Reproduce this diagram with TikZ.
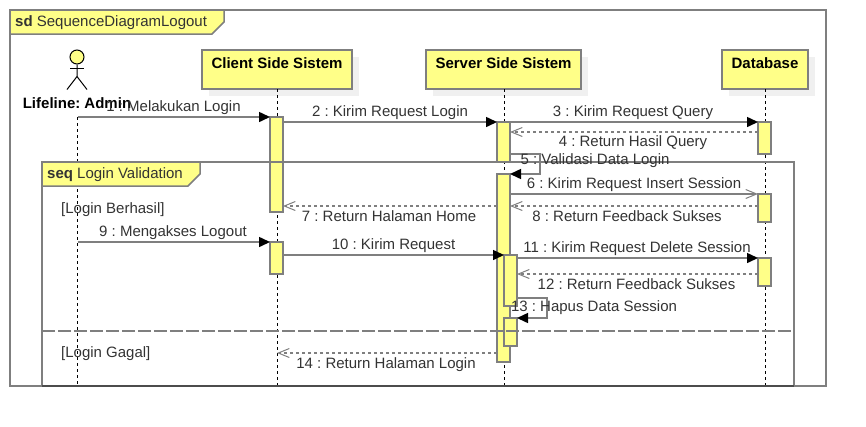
\documentclass[tikz,border=0pt]{standalone}
\usepackage{fontspec}
\setmainfont{Liberation Sans}
\usetikzlibrary{arrows.meta,shadows}
\definecolor{umlfill}{HTML}{FFFF88}
\definecolor{umlline}{HTML}{7F7F7F}
\definecolor{umltext}{HTML}{333333}
\frenchspacing
\begin{document}
\begin{tikzpicture}[x=1pt,y=-1pt,font=\fontsize{15}{17}\selectfont,
				frame/.style={rectangle,draw=umlline,line width=1.5pt,inner sep=0pt,outer sep=0pt,anchor=north west},
				tab/.style={draw=umlline,line width=1.5pt,fill=umlfill},
				tabtext/.style={anchor=west,inner sep=0pt,text=umltext,yshift=-1pt},
				object/.style={rectangle,draw=umlline,line width=1.5pt,fill=umlfill,anchor=north west,minimum height=39pt,inner xsep=0pt,inner ysep=6pt,outer sep=0pt,text height=12pt,text depth=15pt,font=\fontsize{15}{17}\selectfont\bfseries,drop shadow={shadow xshift=7pt,shadow yshift=-7pt,fill=black!6,opacity=1}},
				activation/.style={rectangle,draw=umlline,line width=1.5pt,fill=umlfill,anchor=north west,minimum width=13pt,inner sep=0pt,outer sep=0pt},
				lifeline/.style={black,line width=1pt,dash pattern=on 3pt off 3pt},
				call/.style={draw=umlline,line width=1.5pt,-{Triangle[black,length=11pt,width=10pt]}},
				callopen/.style={draw=umlline,line width=1.5pt,-{Straight Barb[length=11pt,width=9pt,line width=1pt]}},
				reply/.style={draw=umlline,line width=1.5pt,dash pattern=on 3pt off 3pt,-{Straight Barb[length=11pt,width=9pt,line width=1pt,sep=0pt]}},
				msg/.style={inner sep=0pt,text=umltext,yshift=-1pt}]
\useasboundingbox (0,0) rectangle (866,426);
\node[frame,minimum width=816pt,minimum height=376pt] (sdframe) at (10,10) {};
% objects
\node[circle,draw=black,line width=1pt,fill=umlfill,minimum size=14pt,inner sep=0pt] (admin) at (77,57) {};
\draw[black,line width=1pt] (admin.south) -- ++(0,12) coordinate (hip) -- ++(-10,13);
\draw[black,line width=1pt] (hip) -- ++(10,13);
\draw[black,line width=1pt] (70,68) -- (84,68);
\node[font=\fontsize{15}{17}\selectfont\bfseries,inner sep=0pt] (adminlabel) at (77,103.5) {Lifeline: Admin};
\node[object,minimum width=150pt] (client) at (202,50) {Client Side Sistem};
\node[object,minimum width=155pt] (server) at (426,50) {Server Side Sistem};
\node[object,minimum width=86pt] (database) at (722,50) {Database};
\coordinate (adminstart) at (77.5,117);
\coordinate (serverstart) at (504.5,89);
\draw[lifeline] (adminstart) -- (adminstart |- sdframe.south);
\draw[lifeline] (client.south) -- (client.south |- sdframe.south);
\draw[lifeline] (serverstart) -- (serverstart |- sdframe.south);
\draw[lifeline] (database.south) -- (database.south |- sdframe.south);
% activations
\node[activation,minimum height=95pt] (clientA) at (270,117) {};
\node[activation,minimum height=32pt] (clientB) at (270,242) {};
\node[activation,minimum height=40pt] (serverA) at (497,122) {};
\node[activation,minimum height=188pt] (serverB) at (497,174) {};
\node[activation,minimum height=51pt] (serverC) at (504,255) {};
\node[activation,minimum height=28pt] (serverD) at (504,318) {};
\node[activation,minimum height=32pt] (databaseA) at (758,122) {};
\node[activation,minimum height=28pt] (databaseB) at (758,194) {};
\node[activation,minimum height=28pt] (databaseC) at (758,258) {};
% fragment
\node[frame,minimum width=752pt,minimum height=224pt] (seqframe) at (42,162) {};
\draw[draw=umlline!60!black,line width=1.5pt] (seqframe.south west) -- (seqframe.south east);
\draw[umlline,line width=1.5pt,dash pattern=on 13pt off 3pt] (seqframe.west |- 0,331) -- (seqframe.east |- 0,331);
\draw[tab] (sdframe.north west) -- ++(214,0) -- ++(0,12) -- ++(-12,12) -- ++(-202,0) -- cycle;
\draw[tab] (seqframe.north west) -- ++(158,0) -- ++(0,12) -- ++(-12,12) -- ++(-146,0) -- cycle;
\node[tabtext] (sdlabel) at (15,22) {\textbf{sd} SequenceDiagramLogout};
\node[tabtext] (seqlabel) at (47,174) {\textbf{seq} Login Validation};
\node[msg,anchor=west] (berhasil) at (61,209) {[Login Berhasil]};
\node[msg,anchor=west] (gagal) at (61,353) {[Login Gagal]};
% messages
\draw[call] (adminstart) -- (clientA.north west);
\draw[call] (clientA.east |- serverA.north) -- (serverA.north west);
\draw[call] (serverA.north east) -- (databaseA.north west);
\draw[reply] (databaseA.west |- 0,132) -- (serverA.east |- 0,132);
\draw[call] (serverA.east |- 0,154) -- ++(30,0) |- (serverB.north east);
\draw[callopen] (serverB.east |- databaseB.north) -- (databaseB.north west);
\draw[reply] (serverB.west |- 0,206) -- (clientA.east |- 0,206);
\draw[reply] (databaseB.west |- 0,206) -- (serverB.east |- 0,206);
\draw[call] (adminstart |- clientB.north) -- (clientB.north west);
\draw[call] (clientB.east |- serverC.north) -- (serverC.north west);
\draw[call] (serverC.east |- databaseC.north) -- (databaseC.north west);
\draw[reply] (databaseC.west |- 0,274) -- (serverC.east |- 0,274);
\draw[call] (serverC.east |- 0,298) -- ++(30,0) |- (serverD.north east);
\draw[reply] (serverB.west |- 0,353) -- (client.south |- 0,353);
% message labels
\node[msg] (m1) at (173.5,107) {1 : Melakukan Login};
\node[msg] (m2) at (390,112) {2 : Kirim Request Login};
\node[msg] (m3) at (633,112) {3 : Kirim Request Query};
\node[msg] (m4) at (633,142) {4 : Return Hasil Query};
\node[msg] (m5) at (595,160) {5 : Validasi Data Login};
\node[msg] (m6) at (634,184) {6 : Kirim Request Insert Session};
\node[msg] (m7) at (389,215) {7 : Return Halaman Home};
\node[msg] (m8) at (627,215) {8 : Return Feedback Sukses};
\node[msg] (m9) at (173,232) {9 : Mengakses Logout};
\node[msg] (m10) at (393.5,245) {10 : Kirim Request};
\node[msg] (m11) at (637,248) {11 : Kirim Request Delete Session};
\node[msg] (m12) at (636.5,283) {12 : Return Feedback Sukses};
\node[msg] (m13) at (594,307) {13 : Hapus Data Session};
\node[msg] (m14) at (386,364) {14 : Return Halaman Login};
\end{tikzpicture}
\end{document}
